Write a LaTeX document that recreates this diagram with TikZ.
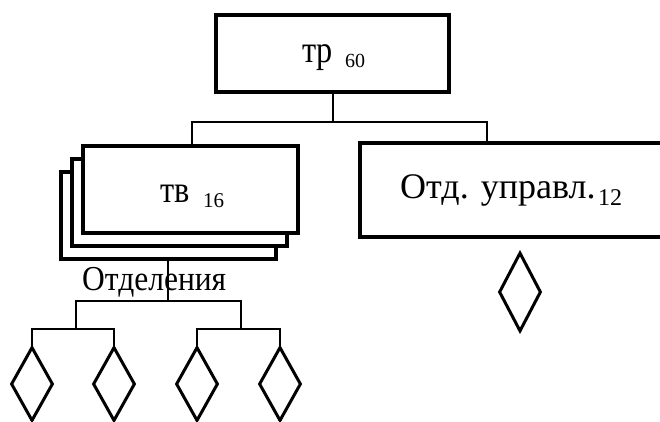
\documentclass[tikz,border=0pt]{standalone}
\usepackage{fontspec}
\setmainfont{Liberation Serif}
\newfontfamily\narrowA{Liberation Serif}[FakeStretch=0.85]
\newfontfamily\narrowB{Liberation Serif}[FakeStretch=0.9]
\usetikzlibrary{shapes.geometric}
\begin{document}
\begin{tikzpicture}[x=1pt,y=-1pt,
  orgbox/.style={draw, line width=3.4pt, fill=white, inner sep=0pt, rectangle},
  wire/.style={line width=1.4pt},
  rhomb/.style={draw, diamond, line width=3pt, inner sep=0pt, minimum width=42pt},
  lbl/.style={inner sep=0pt, anchor=base west},
  bigA/.style={font=\narrowA\fontsize{38}{38}\selectfont},
  bigB/.style={font=\narrowB\fontsize{35}{35}\selectfont},
  bigC/.style={font=\fontsize{36}{36}\selectfont},
  subA/.style={font=\fontsize{20}{20}\selectfont},
  subT/.style={font=\fontsize{21}{21}\selectfont},
  subB/.style={font=\fontsize{24}{24}\selectfont}
]
\path[use as bounding box] (0,0) rectangle (660,421);

% top box
\node[orgbox, minimum width=233pt, minimum height=77pt] (tr) at (332.5,53.5) {};
\node[lbl, bigA] (trt) at (302,62) {тр};
\node[lbl, subA] (trs) at (345,67) {60};

% stacked boxes
\node[orgbox, minimum width=215pt, minimum height=87pt] (tv3) at (168.5,215.5) {};
\node[orgbox, minimum width=215pt, minimum height=87pt] (tv2) at (179.5,202.5) {};
\node[orgbox, minimum width=215pt, minimum height=87pt] (tv1) at (190.5,189.5) {};
\node[lbl, bigA] (tvt) at (160,202.5) {тв};
\node[lbl, subT] (tvs) at (203,207) {16};

% right box
\node[orgbox, minimum width=303pt, minimum height=94pt] (otd) at (511.5,190) {};
\node[lbl, bigC] (otdt) at (400,198) {Отд. управл.};
\node[lbl, subB] (otds) at (598,205) {12};

% connectors from top
\coordinate (busM) at (333,122);
\coordinate (busL) at (192,122);
\coordinate (busR) at (487,122);
\draw[wire] (tr.south -| busM) -- (busM);
\draw[wire] (tv1.north -| busL) -- (busL) -- (busR) -- (otd.north -| busR);

% label Отделения
\node[lbl, bigB] (otdel) at (82,290.5) {Отделения};

% diamonds
\node[rhomb, minimum height=74pt] (d1) at (32,384) {};
\node[rhomb, minimum height=74pt] (d2) at (114,384) {};
\node[rhomb, minimum height=74pt] (d3) at (197,384) {};
\node[rhomb, minimum height=74pt] (d4) at (280,384) {};
\node[rhomb, minimum height=79pt] (d5) at (520,292) {};

% lower connectors
\coordinate (b2M) at (168,301);
\coordinate (b2L) at (76,301);
\coordinate (b2R) at (241,301);
\coordinate (b3L) at (76,329);
\coordinate (b3R) at (241,329);
\draw[wire] (tv3.south -| b2M) -- (b2M);
\draw[wire] (b3L) -- (b2L) -- (b2R) -- (b3R);
\draw[wire] (d1.north) -- (d1.north |- b3L) -- (d2.north |- b3L) -- (d2.north);
\draw[wire] (d3.north) -- (d3.north |- b3R) -- (d4.north |- b3R) -- (d4.north);
\end{tikzpicture}
\end{document}
